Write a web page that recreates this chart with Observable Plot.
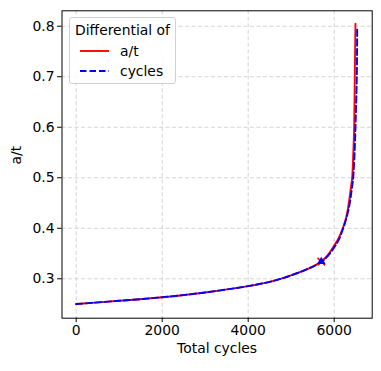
<!DOCTYPE html>
<html><head><meta charset="utf-8">
<script src="https://cdn.jsdelivr.net/npm/d3@7"></script>
<script src="https://cdn.jsdelivr.net/npm/@observablehq/plot@0.6"></script>
<style>
body{margin:0;background:#fff;font-family:"DejaVu Sans",sans-serif;}
#wrap{position:relative;width:381px;height:371px;}
#legend{position:absolute;left:69px;top:17px;width:105px;height:65px;border:1px solid #d0d0d0;border-radius:3px;background:rgba(255,255,255,0.85);font-size:13.9px;color:#000;}
#legend .t{position:absolute;left:0;width:100%;text-align:center;top:3px;line-height:18px;}
#legend .row{position:absolute;left:10px;height:14px;width:90px;}
#legend .lab{position:absolute;top:-2px;line-height:18px;}
</style>
</head><body>
<div id="wrap"><div id="chart"></div>
<div id="legend"><div class="t">Differential of</div>
<div class="row" style="top:26px"><svg width="32" height="14" style="position:absolute;left:0;top:0"><line x1="0" x2="29" y1="7" y2="7" stroke="red" stroke-width="1.9"/></svg><span class="lab" style="left:40px">a/t</span></div>
<div class="row" style="top:46px"><svg width="32" height="14" style="position:absolute;left:0;top:0"><line x1="0" x2="29" y1="7" y2="7" stroke="blue" stroke-width="1.9" stroke-dasharray="6.5,3"/></svg><span class="lab" style="left:40px">cycles</span></div>
</div></div>
<script>
// a/t series (red, solid)
const redCycles = [0, 1000, 2000, 3000, 4000, 4500, 4830, 5200, 5450, 5700, 5850, 6000, 6100, 6200, 6280, 6340, 6385, 6418, 6445, 6465, 6479, 6495];
const redAT     = [0.250, 0.2565, 0.2635, 0.273, 0.2855, 0.294, 0.302, 0.313, 0.322, 0.334, 0.347, 0.366, 0.380, 0.400, 0.422, 0.450, 0.478, 0.50, 0.55, 0.60, 0.70, 0.805];
// cycles series (blue, dashed)
const blueCycles = [0, 1000, 2000, 3000, 4000, 4500, 4830, 5200, 5450, 5700, 5850, 6000, 6100, 6210, 6300, 6363, 6410, 6442, 6475, 6495, 6512, 6526, 6532, 6535];
const blueAT     = [0.250, 0.2565, 0.2635, 0.273, 0.2855, 0.294, 0.302, 0.313, 0.322, 0.333, 0.345, 0.362, 0.376, 0.400, 0.425, 0.450, 0.478, 0.50, 0.55, 0.60, 0.65, 0.70, 0.75, 0.795];
// marker points
const markCycles = [5700];
const markAT = [0.334];
const xTicks = [0, 2000, 4000, 6000];
const yTicks = [0.3, 0.4, 0.5, 0.6, 0.7, 0.8];

const red = redCycles.map((c, i) => ({c, a: redAT[i]}));
const blue = blueCycles.map((c, i) => ({c, a: blueAT[i]}));
const marks = markCycles.map((c, i) => ({c, a: markAT[i]}));

const plot = Plot.plot({
  width: 381, height: 371,
  marginLeft: 61.5, marginRight: 9.3, marginTop: 10.3, marginBottom: 53.3,
  style: {fontFamily: "DejaVu Sans", fontSize: "13.9px", color: "#000", background: "#fff"},
  x: {domain: [-330, 6884]},
  y: {domain: [0.222, 0.8305]},
  marks: [
    Plot.gridX(xTicks, {stroke: "#cfcfcf", strokeOpacity: 1, strokeDasharray: "4,2.5", strokeWidth: 0.9}),
    Plot.gridY(yTicks, {stroke: "#cfcfcf", strokeOpacity: 1, strokeDasharray: "4,2.5", strokeWidth: 0.9}),
    Plot.axisX(xTicks, {tickSize: 4.4, tickPadding: 3, label: null, tickFormat: d => String(d), fontSize: 13.9}),
    Plot.axisY(yTicks, {tickSize: 4.4, tickPadding: 3, label: null, tickFormat: d => d.toFixed(1), fontSize: 13.9}),
    Plot.text(["Total cycles"], {frameAnchor: "bottom", dy: 35, fontSize: 13.9}),
    Plot.text(["a/t"], {frameAnchor: "left", dx: -45, rotate: -90, fontSize: 13.9}),
    Plot.line(red, {x: "c", y: "a", stroke: "red", strokeWidth: 1.9, curve: "catmull-rom"}),
    Plot.line(blue, {x: "c", y: "a", stroke: "blue", strokeWidth: 1.9, strokeDasharray: "6.5,3", curve: "catmull-rom"}),
    Plot.dot(marks, {x: "c", y: "a", symbol: "times", stroke: "red", strokeWidth: 1.5, r: 3.5}),
    Plot.dot(marks, {x: "c", y: "a", symbol: "triangle", fill: "blue", stroke: null, r: 3.2}),
    Plot.frame({stroke: "#000", strokeWidth: 1})
  ]
});
document.getElementById("chart").appendChild(plot);
</script>
</body></html>
